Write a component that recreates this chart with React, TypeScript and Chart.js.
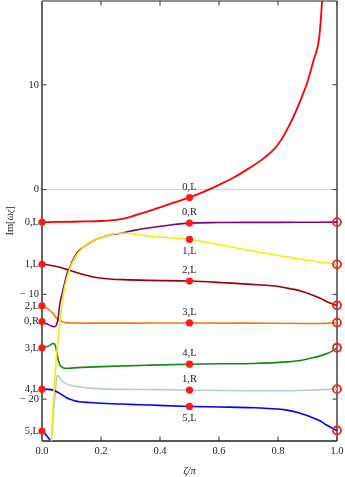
import React, { useEffect, useRef } from 'react';
import { Chart, registerables } from 'chart.js';

Chart.register(...registerables);

const FONT = "'Liberation Serif', 'Times New Roman', serif";

// ---- data (x = ζ/π, y = Im[ω_ζ]) ----
const redX = [0, 0.05, 0.1, 0.15, 0.2, 0.25, 0.3, 0.35, 0.4, 0.45, 0.5, 0.55, 0.6, 0.65, 0.7, 0.75, 0.8, 0.85, 0.88, 0.9, 0.92, 0.94, 0.95, 0.955];
const redY = [-3.11, -3.09, -3.07, -3.04, -3.0, -2.9, -2.6, -2.15, -1.7, -1.22, -0.75, -0.2, 0.45, 1.15, 2.0, 2.95, 4.3, 6.8, 8.8, 10.3, 12.3, 14.6, 18.2, 20.5];

const purpleX = [0, 0.015, 0.03, 0.042, 0.05, 0.055, 0.06, 0.065, 0.071, 0.076, 0.085, 0.093, 0.105, 0.12, 0.15, 0.184, 0.22, 0.27, 0.32, 0.365, 0.43, 0.5, 0.6, 0.7, 0.8, 0.9, 1.0];
const purpleY = [-12.6, -12.8, -13.0, -13.1, -12.85, -12.2, -11.0, -10.3, -9.6, -9.0, -8.0, -7.5, -6.7, -6.0, -5.3, -4.75, -4.4, -4.15, -3.85, -3.65, -3.4, -3.2, -3.15, -3.13, -3.13, -3.12, -3.11];

const yellowX = [0.03, 0.036, 0.042, 0.048, 0.055, 0.062, 0.069, 0.076, 0.085, 0.095, 0.11, 0.13, 0.155, 0.184, 0.22, 0.27, 0.3, 0.365, 0.43, 0.5, 0.6, 0.7, 0.8, 0.9, 1.0];
const yellowY = [-25, -21.5, -18.5, -16.3, -14.0, -12.3, -10.7, -9.4, -8.4, -7.5, -6.6, -5.8, -5.15, -4.75, -4.4, -4.15, -4.2, -4.45, -4.6, -4.76, -5.25, -5.8, -6.3, -6.75, -7.14];

const darkRedX = [0, 0.05, 0.093, 0.14, 0.184, 0.23, 0.275, 0.365, 0.5, 0.615, 0.728, 0.8, 0.841, 0.88, 0.92, 0.945, 0.966, 0.985, 1.0];
const darkRedY = [-7.1, -7.35, -7.7, -8.1, -8.4, -8.53, -8.6, -8.67, -8.73, -8.89, -9.08, -9.25, -9.46, -9.7, -10.1, -10.4, -10.7, -10.92, -11.05];

const orangeX = [0, 0.015, 0.025, 0.035, 0.042, 0.05, 0.06, 0.07, 0.082, 0.1, 0.2, 0.3, 0.5, 0.7, 0.9, 0.95, 0.98, 1.0];
const orangeY = [-11.1, -11.3, -11.5, -11.75, -12.0, -12.3, -12.5, -12.62, -12.7, -12.73, -12.75, -12.75, -12.73, -12.75, -12.78, -12.78, -12.74, -12.7];

const greenX = [0, 0.015, 0.028, 0.037, 0.043, 0.048, 0.054, 0.06, 0.068, 0.076, 0.09, 0.12, 0.2, 0.365, 0.5, 0.6, 0.717, 0.83, 0.88, 0.91, 0.94, 0.966, 0.985, 1.0];
const greenY = [-15.08, -15.0, -14.85, -14.7, -14.75, -15.2, -16.1, -16.7, -16.95, -17.05, -17.05, -17.0, -16.9, -16.76, -16.67, -16.63, -16.6, -16.45, -16.3, -16.1, -15.9, -15.65, -15.4, -15.1];

const lightBlueX = [0.028, 0.034, 0.04, 0.047, 0.052, 0.058, 0.066, 0.08, 0.1, 0.127, 0.16, 0.22, 0.3, 0.4, 0.5, 0.6, 0.7, 0.8, 0.9, 0.95, 1.0];
const lightBlueY = [-25, -23.2, -21.0, -18.8, -17.7, -17.9, -18.2, -18.5, -18.7, -18.85, -18.95, -19.05, -19.08, -19.1, -19.14, -19.18, -19.2, -19.2, -19.15, -19.1, -19.05];

const blueX = [0, 0.02, 0.035, 0.05, 0.06, 0.071, 0.082, 0.093, 0.11, 0.127, 0.16, 0.218, 0.3, 0.365, 0.5, 0.6, 0.717, 0.8, 0.83, 0.87, 0.91, 0.94, 0.966, 0.985, 1.0];
const blueY = [-19.05, -19.07, -19.12, -19.3, -19.45, -19.65, -19.85, -20.0, -20.15, -20.25, -20.33, -20.42, -20.5, -20.57, -20.7, -20.75, -20.82, -20.95, -21.05, -21.3, -21.7, -22.05, -22.5, -22.8, -23.0];

const blue2X = [0, 0.01, 0.02, 0.03, 0.04];
const blue2Y = [-23.05, -23.3, -23.65, -24.0, -24.4];

// markers
const leftLabels = ['0,L', '1,L', '2,L', '0,R', '3,L', '4,L', '5,L'];
const leftValues = [-3.11, -7.14, -11.1, -12.6, -15.1, -19.05, -23.05];

const midX = 0.5;
const midLabels = ['0,L', '0,R', '1,L', '2,L', '3,L', '4,L', '1,R', '5,L'];
const midValues = [-0.76, -3.2, -4.76, -8.73, -12.73, -16.67, -19.14, -20.7];
const midAbove = [true, true, false, true, true, true, true, false];

const rightValues = [-3.11, -7.14, -11.05, -12.7, -15.1, -19.05, -23.0];

const yTickLabelValues = [10, 0, -10, -20];
const xTickLabelValues = [0, 0.2, 0.4, 0.6, 0.8, 1.0];

const pts = (xs: number[], ys: number[]) => xs.map((x, i) => ({ x, y: ys[i] }));

const isMajorX = (v: number) => xTickLabelValues.some((t) => Math.abs(t - v) < 1e-6);
const isMajorY = (v: number) => yTickLabelValues.some((t) => Math.abs(t - v) < 1e-6);

const framePlugin = {
  id: 'frame',
  beforeDatasetsDraw(chart: any) {
    const { ctx, chartArea: a, scales } = chart;
    const x = scales.x;
    const y = scales.y;
    ctx.save();
    const ln = (x1: number, y1: number, x2: number, y2: number) => {
      ctx.beginPath();
      ctx.moveTo(x1, y1);
      ctx.lineTo(x2, y2);
      ctx.stroke();
    };
    const y0 = y.getPixelForValue(0);
    ctx.strokeStyle = '#d2d2d2';
    ctx.lineWidth = 1;
    ln(a.left, y0, a.right, y0);
    ctx.strokeStyle = '#333';
    ctx.lineWidth = 1;
    x.ticks.forEach((t: any) => {
      const px = x.getPixelForValue(t.value);
      const L = isMajorX(t.value) ? 4.5 : 2.5;
      ln(px, a.bottom, px, a.bottom - L);
      ln(px, a.top, px, a.top + L);
    });
    y.ticks.forEach((t: any) => {
      const py = y.getPixelForValue(t.value);
      const L = isMajorY(t.value) ? 4.5 : 2.5;
      ln(a.left, py, a.left + L, py);
      ln(a.right, py, a.right - L, py);
    });
    ctx.strokeStyle = '#222';
    ctx.lineWidth = 1;
    ln(a.left, a.top, a.right, a.top);
    ctx.lineWidth = 1.5;
    ln(a.left, a.bottom, a.right, a.bottom);
    ctx.strokeStyle = '#444';
    ln(a.right, a.top, a.right, a.bottom);
    ctx.strokeStyle = '#666';
    ctx.lineWidth = 2;
    ln(a.left, a.top, a.left, a.bottom);
    ctx.restore();
  },
  afterDraw(chart: any) {
    const { ctx, chartArea: a, scales } = chart;
    const x = scales.x;
    const y = scales.y;
    ctx.save();
    ctx.fillStyle = '#222';
    ctx.font = `10.5px ${FONT}`;
    ctx.textBaseline = 'middle';
    ctx.textAlign = 'right';
    leftLabels.forEach((lab, i) => {
      ctx.fillText(lab, a.left - 3, y.getPixelForValue(leftValues[i]));
    });
    ctx.textAlign = 'center';
    const mx = x.getPixelForValue(midX);
    midLabels.forEach((lab, i) => {
      const py = y.getPixelForValue(midValues[i]);
      ctx.fillText(lab, mx, midAbove[i] ? py - 10.5 : py + 12);
    });
    ctx.font = `italic 10.5px ${FONT}`;
    ctx.fillText('ζ/π', (a.left + a.right) / 2, 471);
    const cy = (a.top + a.bottom) / 2;
    ctx.translate(10, cy);
    ctx.rotate(-Math.PI / 2);
    const parts = [
      { t: 'Im[', f: `10.5px ${FONT}`, dy: 0 },
      { t: 'ω', f: `italic 10.5px ${FONT}`, dy: 0 },
      { t: 'ζ', f: `italic 7.5px ${FONT}`, dy: 2.5 },
      { t: ']', f: `10.5px ${FONT}`, dy: 0 },
    ];
    let total = 0;
    const widths = parts.map((p) => {
      ctx.font = p.f;
      const w = ctx.measureText(p.t).width;
      total += w;
      return w;
    });
    let cx = -total / 2;
    ctx.textAlign = 'left';
    parts.forEach((p, i) => {
      ctx.font = p.f;
      ctx.fillText(p.t, cx, p.dy);
      cx += widths[i];
    });
    ctx.restore();
  },
};

const line = (label: string, xs: number[], ys: number[], color: string, order: number, width = 1.6) => ({
  type: 'scatter' as const,
  label,
  data: pts(xs, ys),
  showLine: true,
  borderColor: color,
  backgroundColor: color,
  borderWidth: width,
  pointRadius: 0,
  cubicInterpolationMode: 'monotone' as const,
  order,
});

export default function App() {
  const ref = useRef<HTMLCanvasElement>(null);
  useEffect(() => {
    document.body.style.margin = '0';
    const canvas = ref.current!;
    const chart = new Chart(canvas, {
      type: 'scatter',
      data: {
        datasets: [
          {
            label: 'left',
            data: leftValues.map((v) => ({ x: 0, y: v })),
            pointRadius: 3.6,
            pointBackgroundColor: '#ff1a1a',
            pointBorderWidth: 0,
            clip: false as any,
            order: 0,
          },
          {
            label: 'mid',
            data: midValues.map((v) => ({ x: midX, y: v })),
            pointRadius: 3.6,
            pointBackgroundColor: '#ff1a1a',
            pointBorderWidth: 0,
            clip: false as any,
            order: 0,
          },
          {
            label: 'right',
            data: rightValues.map((v) => ({ x: 1, y: v })),
            pointRadius: 4,
            pointBackgroundColor: 'rgba(255,255,255,0)',
            pointBorderColor: '#ff1a1a',
            pointBorderWidth: 1.8,
            clip: false as any,
            order: 0,
          },
          line('0,L', redX, redY, '#ff0000', 1, 1.8),
          line('1,L', yellowX, yellowY, '#f0f000', 2),
          line('0,R', purpleX, purpleY, '#800080', 3),
          line('2,L', darkRedX, darkRedY, '#9a0000', 4),
          line('3,L', orangeX, orangeY, '#f07a10', 5),
          line('4,L', greenX, greenY, '#118811', 6),
          line('5,L', blueX, blueY, '#0000ff', 7),
          line('5,L b', blue2X, blue2Y, '#0000ff', 8),
          line('1,R', lightBlueX, lightBlueY, '#b7c9d9', 9),
        ] as any,
      },
      options: {
        responsive: false,
        devicePixelRatio: 1,
        animation: false,
        layout: { autoPadding: false, padding: { top: 1, right: 8, left: 0, bottom: 0 } },
        plugins: { legend: { display: false }, tooltip: { enabled: false } },
        scales: {
          x: {
            type: 'linear',
            min: 0,
            max: 1,
            afterFit: (s: any) => {
              s.height = 36;
              s.paddingLeft = 0;
              s.paddingRight = 0;
            },
            ticks: {
              stepSize: 0.05,
              autoSkip: false,
              maxRotation: 0,
              padding: 4,
              color: '#222',
              font: { family: FONT, size: 10.5 },
              callback: (v: any) => (isMajorX(Number(v)) ? Number(v).toFixed(1) : null),
            },
            grid: { display: false, drawTicks: false },
            border: { display: false },
          },
          y: {
            type: 'linear',
            min: -24,
            max: 18,
            afterFit: (s: any) => {
              s.width = 42;
              s.paddingTop = 0;
              s.paddingBottom = 0;
            },
            ticks: {
              stepSize: 2,
              autoSkip: false,
              padding: 3,
              color: '#222',
              font: { family: FONT, size: 10.5 },
              callback: (v: any) => {
                const n = Number(v);
                if (!isMajorY(n)) return null;
                return n < 0 ? '\u2212 ' + Math.abs(n) : String(n);
              },
            },
            grid: { display: false, drawTicks: false },
            border: { display: false },
          },
        },
      } as any,
      plugins: [framePlugin],
    });
    return () => chart.destroy();
  }, []);
  return (
    <div style={{ width: 345, height: 477 }}>
      <canvas ref={ref} width={345} height={477} style={{ display: 'block' }} />
    </div>
  );
}
